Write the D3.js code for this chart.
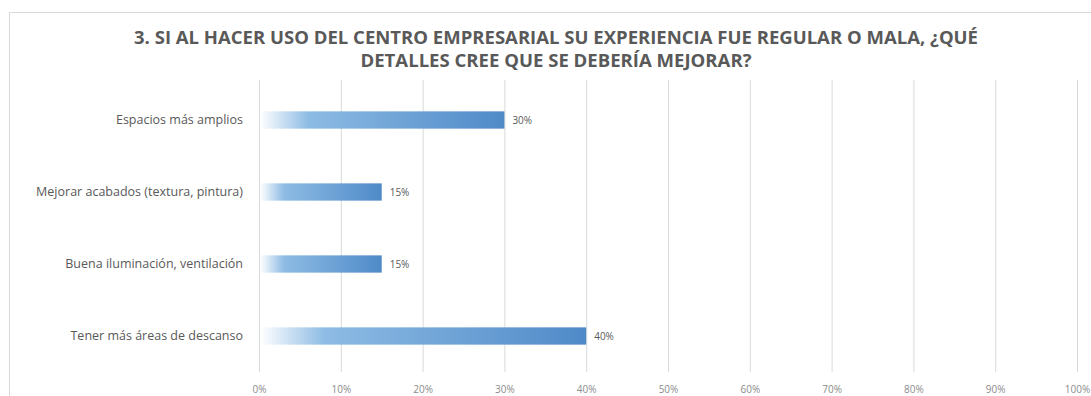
<!DOCTYPE html>
<html>
<head>
<meta charset="utf-8">
<script src="https://cdn.jsdelivr.net/npm/d3@7"></script>
<style>
  html, body { margin: 0; padding: 0; background: #ffffff; }
  svg { display: block; }
</style>
</head>
<body>
<svg id="chart" width="1091" height="396"></svg>
<script>
// Survey question 3: details to improve at the business centre
const categories = [
  "Espacios más amplios",
  "Mejorar acabados (textura, pintura)",
  "Buena iluminación, ventilación",
  "Tener más áreas de descanso"
];
const values = [0.30, 0.15, 0.15, 0.40];
const tickValues = [0, 0.1, 0.2, 0.3, 0.4, 0.5, 0.6, 0.7, 0.8, 0.9, 1.0];
const titleLines = [
  "3. SI AL HACER USO DEL CENTRO EMPRESARIAL SU EXPERIENCIA FUE REGULAR O MALA, ¿QUÉ",
  "DETALLES CREE QUE SE DEBERÍA MEJORAR?"
];
const titleWidths = [844, 391];

const svg = d3.select("#chart");

// chart frame
svg.append("rect")
  .attr("x", 9.5).attr("y", 12.5)
  .attr("width", 1100).attr("height", 400)
  .attr("fill", "#ffffff")
  .attr("stroke", "#d9d9d9")
  .attr("stroke-width", 1);

// gradient fill for the bars
const defs = svg.append("defs");
const grad = defs.append("linearGradient")
  .attr("id", "barGrad")
  .attr("x1", "0%").attr("x2", "100%")
  .attr("y1", "0%").attr("y2", "0%");
grad.append("stop").attr("offset", "0%").attr("stop-color", "#ffffff");
grad.append("stop").attr("offset", "20%").attr("stop-color", "#8dbbe4");
grad.append("stop").attr("offset", "100%").attr("stop-color", "#4f8ac8");

// title
const title = svg.append("text")
  .attr("text-anchor", "middle")
  .attr("font-family", "'Open Sans', sans-serif")
  .attr("font-weight", "bold")
  .attr("font-size", 17)
  .attr("fill", "#595959");
title.selectAll("tspan")
  .data(titleLines)
  .join("tspan")
  .attr("x", 556)
  .attr("y", (d, i) => 44 + i * 23)
  .attr("textLength", (d, i) => titleWidths[i])
  .attr("lengthAdjust", "spacingAndGlyphs")
  .text(d => d);

const plot = { left: 259, right: 1077, top: 84, bottom: 372 };

const x = d3.scaleLinear()
  .domain([0, 1])
  .range([plot.left, plot.right]);

const y = d3.scaleBand()
  .domain(categories)
  .range([plot.top, plot.bottom])
  .paddingInner(0.76)
  .paddingOuter(0.38);

// vertical gridlines
svg.append("g")
  .selectAll("line")
  .data(tickValues)
  .join("line")
  .attr("x1", d => x(d) + 0.5)
  .attr("x2", d => x(d) + 0.5)
  .attr("y1", 80)
  .attr("y2", plot.bottom)
  .attr("stroke", "#d9d9d9")
  .attr("stroke-width", 1);

// bottom axis labels
const xAxis = d3.axisBottom(x)
  .tickValues(tickValues)
  .tickFormat(d3.format(".0%"))
  .tickSize(0)
  .tickPadding(0);
const gx = svg.append("g")
  .attr("transform", `translate(0, ${plot.bottom + 14})`)
  .call(xAxis);
gx.select(".domain").remove();
gx.selectAll("text")
  .attr("font-family", "'Open Sans', sans-serif")
  .attr("font-size", 10)
  .attr("fill", "#8c8c8c");

// category labels
const yAxis = d3.axisLeft(y).tickSize(0).tickPadding(0);
const gy = svg.append("g")
  .attr("transform", `translate(243, 0)`)
  .call(yAxis);
gy.select(".domain").remove();
gy.selectAll("text")
  .attr("font-family", "'Open Sans', sans-serif")
  .attr("font-size", 12.5)
  .attr("fill", "#595959");

// bars
svg.append("g")
  .selectAll("rect")
  .data(categories)
  .join("rect")
  .attr("x", x(0) + 1)
  .attr("y", d => y(d))
  .attr("width", (d, i) => x(values[i]) - x(0) - 1)
  .attr("height", y.bandwidth())
  .attr("fill", "url(#barGrad)");

// value labels
svg.append("g")
  .selectAll("text")
  .data(categories)
  .join("text")
  .attr("x", (d, i) => x(values[i]) + 8)
  .attr("y", d => y(d) + y.bandwidth() / 2)
  .attr("dy", "0.35em")
  .attr("font-family", "'Open Sans', sans-serif")
  .attr("font-size", 10)
  .attr("fill", "#595959")
  .text((d, i) => d3.format(".0%")(values[i]));
</script>
</body>
</html>
